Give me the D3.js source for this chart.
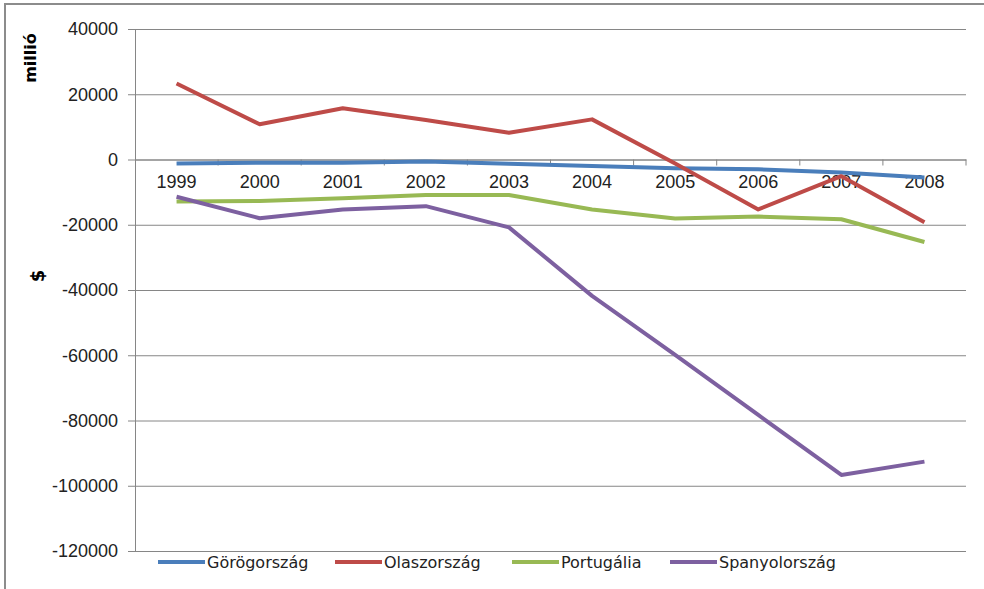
<!DOCTYPE html>
<html>
<head>
<meta charset="utf-8">
<script src="https://cdn.jsdelivr.net/npm/d3@7"></script>
<style>
  body { margin: 0; background: #fff; }
  svg { display: block; font-family: "DejaVu Sans", sans-serif; }
</style>
</head>
<body>
<div id="chart"></div>
<script>
// Data (millió $)
const years = ["1999", "2000", "2001", "2002", "2003", "2004", "2005", "2006", "2007", "2008"];
const gorogorszag   = [-1200, -1000, -1000, -600, -1300, -2000, -2700, -3000, -4000, -5500];
const olaszorszag   = [23300, 10800, 15700, 12100, 8200, 12300, -1200, -15300, -5100, -19200];
const portugalia    = [-12900, -12700, -11900, -10900, -10900, -15300, -18100, -17500, -18300, -25300];
const spanyolorszag = [-11400, -18000, -15300, -14300, -20800, -41800, -59900, -78300, -96700, -92600];
const yTicks = [40000, 20000, 0, -20000, -40000, -60000, -80000, -100000, -120000];

const series = [
  {name: "Görögország", values: gorogorszag, color: "#4a7ebb"},
  {name: "Olaszország", values: olaszorszag, color: "#be4b48"},
  {name: "Portugália", values: portugalia, color: "#98b954"},
  {name: "Spanyolország", values: spanyolorszag, color: "#7d60a0"}
];

const W = 984, H = 589;
const margin = {top: 29, right: 18, bottom: 38, left: 135};
const width = W - margin.left - margin.right,
      height = H - margin.top - margin.bottom;

const svg = d3.select("#chart").append("svg")
              .attr("width", W)
              .attr("height", H);

// outer frame (only top and left visible in the reference)
svg.append("path")
   .attr("d", `M5,${H} V4 H${W}`)
   .attr("fill", "none")
   .attr("stroke", "#8c8c8c")
   .attr("stroke-width", 2);

const g = svg.append("g")
             .attr("transform", `translate(${margin.left},${margin.top})`);

const x = d3.scaleBand().domain(years).range([0, width]);
const y = d3.scaleLinear().domain([-120000, 40000]).range([height, 0]);

// horizontal gridlines + left tick marks (plain hyphen for negatives, like the original)
const yAxis = g.append("g")
  .call(d3.axisLeft(y).tickValues(yTicks).tickSize(-width).tickSizeOuter(0).tickFormat(d => String(d)));
yAxis.select(".domain").attr("stroke", "#868686");
yAxis.selectAll(".tick line").attr("stroke", "#868686").attr("x1", -7);
yAxis.selectAll(".tick text")
  .attr("font-size", 18)
  .attr("fill", "#222")
  .attr("x", -17);

// category axis sits on the zero line
const xAxis = g.append("g")
  .attr("transform", `translate(0,${y(0)})`)
  .call(d3.axisBottom(x).tickSize(0).tickSizeOuter(0).tickPadding(16));
xAxis.select(".domain").attr("stroke", "#868686");
xAxis.selectAll(".tick text").attr("font-size", 18).attr("fill", "#222");

// tick marks at the band boundaries
const bounds = years.map(d => x(d)).concat([width]).slice(1);
g.append("g").selectAll("line")
  .data(bounds)
  .join("line")
  .attr("x1", d => d).attr("x2", d => d)
  .attr("y1", y(0)).attr("y2", y(0) + 6)
  .attr("stroke", "#868686");

// lines
const line = d3.line()
  .x((d, i) => x(years[i]) + x.bandwidth() / 2)
  .y(d => y(d));

g.selectAll(".series")
  .data(series)
  .join("path")
  .attr("class", "series")
  .attr("fill", "none")
  .attr("stroke", d => d.color)
  .attr("stroke-width", 4)
  .attr("stroke-linejoin", "round")
  .attr("d", d => line(d.values));

// axis titles
svg.append("text")
   .attr("transform", "translate(36,58) rotate(-90)")
   .attr("text-anchor", "middle")
   .attr("font-size", 16)
   .attr("font-weight", "bold")
   .text("millió");
svg.append("text")
   .attr("transform", "translate(44,276) rotate(-90)")
   .attr("text-anchor", "middle")
   .attr("font-size", 18)
   .attr("font-weight", "bold")
   .text("$");

// legend
const legendX = [158, 335, 512, 670];
const legend = svg.append("g").attr("transform", "translate(0,562)");
const item = legend.selectAll("g")
  .data(series)
  .join("g")
  .attr("transform", (d, i) => `translate(${legendX[i]},0)`);
item.append("line")
  .attr("x1", 0).attr("x2", 47)
  .attr("stroke", d => d.color)
  .attr("stroke-width", 4);
item.append("text")
  .attr("x", 49)
  .attr("dy", "0.35em")
  .attr("font-size", 16)
  .attr("fill", "#222")
  .text(d => d.name);
</script>
</body>
</html>
